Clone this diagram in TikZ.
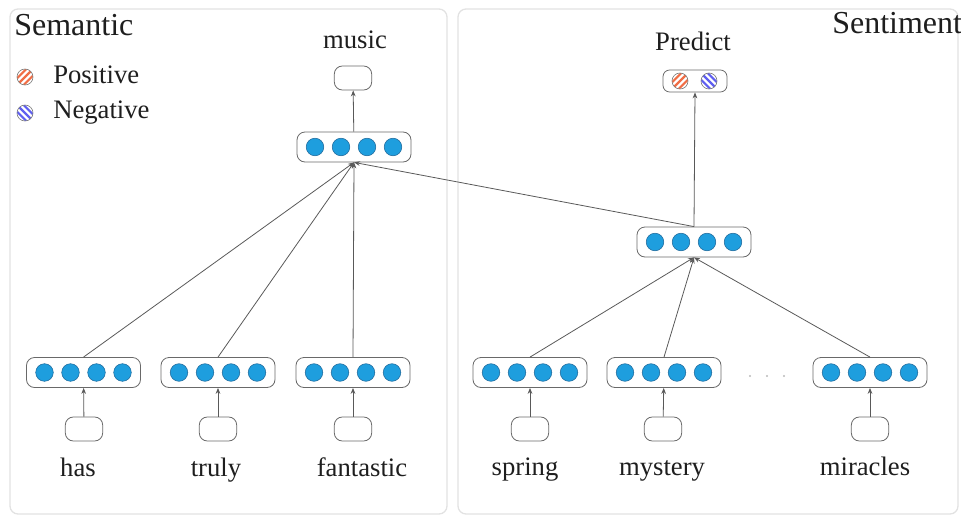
\documentclass[tikz,border=0pt]{standalone}
\usepackage{fontspec}
\setmainfont{Liberation Serif}
\usetikzlibrary{arrows.meta}

\definecolor{unitblue}{RGB}{30,158,222}
\definecolor{unitedge}{RGB}{30,105,155}
\definecolor{boxedge}{RGB}{105,105,105}
\definecolor{panelline}{RGB}{226,226,226}
\definecolor{posred}{RGB}{240,110,70}
\definecolor{negblue}{RGB}{95,95,240}
\definecolor{ink}{RGB}{30,30,30}

\tikzset{
  hidbox/.style={draw=boxedge, line width=0.6pt, rounded corners=6pt,
    minimum width=85.5pt, minimum height=22.5pt, inner sep=0pt,
    path picture={\foreach \k in {-1.5,-0.5,0.5,1.5}{
      \filldraw[fill=unitblue, draw=unitedge, line width=0.4pt]
        ([xshift=\k*19.5pt]path picture bounding box.center) circle (6.6pt);}}},
  wordbox/.style={draw=boxedge, line width=0.6pt, rounded corners=6pt,
    minimum width=28pt, minimum height=18pt, inner sep=0pt},
  predbox/.style={draw=boxedge, line width=0.6pt, rounded corners=5pt,
    minimum width=48pt, minimum height=16.5pt, inner sep=0pt},
  wordtxt/.style={font=\fontsize{20}{24}\selectfont, text=ink, anchor=base, inner sep=0pt},
  legtxt/.style={font=\fontsize{20}{24}\selectfont, text=ink, anchor=base west, inner sep=0pt},
  paneltitle/.style={font=\fontsize{24}{28}\selectfont, text=ink, anchor=base west, inner sep=0pt},
  arr/.style={draw=boxedge!85!black, line width=0.6pt, -{Stealth[length=4.5pt,width=3.5pt]}},
  hatchpos/.style={circle, draw=gray, line width=0.5pt, minimum size=12pt, inner sep=0pt,
    path picture={\foreach \d in {-5,0,5}{
      \draw[posred, line width=1.6pt]
        ([shift={(\d pt-9pt,-9pt)}]path picture bounding box.center) --
        ([shift={(\d pt+9pt,9pt)}]path picture bounding box.center);}}},
  hatchneg/.style={circle, draw=gray, line width=0.5pt, minimum size=12pt, inner sep=0pt,
    path picture={\foreach \d in {-5,0,5}{
      \draw[negblue, line width=1.6pt]
        ([shift={(\d pt-9pt,9pt)}]path picture bounding box.center) --
        ([shift={(\d pt+9pt,-9pt)}]path picture bounding box.center);}}},
}

\begin{document}
\begin{tikzpicture}[x=0.75pt, y=-0.75pt]
\useasboundingbox (0,0) rectangle (961,518);

% two panels
\draw[panelline, line width=1pt, rounded corners=6pt] (10,9) rectangle (447,514);
\draw[panelline, line width=1pt, rounded corners=6pt] (458,9) rectangle (958,514);

% panel titles and legend
\node[paneltitle] (tsem) at (14,35) {Semantic};
\node[paneltitle] (tsen) at (832,33) {Sentiment};
\node[hatchpos] (lpos) at (25,77) {};
\node[hatchneg] (lneg) at (25,113) {};
\node[legtxt] (tpos) at (53,83) {Positive};
\node[legtxt] (tneg) at (53,118) {Negative};

% semantic tree
\node[hidbox] (top) at (354,147) {};
\node[wordbox] (musicbox) at (353,78) {};
\node[wordtxt] (tmusic) at (355,48) {music};

\node[hidbox] (h1) at (83.5,372.5) {};
\node[hidbox] (h2) at (218,372.5) {};
\node[hidbox] (h3) at (353,372.5) {};
\node[wordbox] (w1) at (84,429) {};
\node[wordbox] (w2) at (218,429) {};
\node[wordbox] (w3) at (353,429) {};
\node[wordtxt] (t1) at (78,476) {has};
\node[wordtxt] (t2) at (216,476) {truly};
\node[wordtxt] (t3) at (362,476) {fantastic};

% sentiment tree
\node[hidbox] (mid) at (694,242) {};
\node[predbox] (pred) at (695,81) {};
\node[hatchpos] (ppos) at (680,81) {};
\node[hatchneg] (pneg) at (709,81) {};
\node[wordtxt] (tpred) at (693,50) {Predict};

\node[hidbox] (h4) at (530,372.5) {};
\node[hidbox] (h5) at (664,372.5) {};
\node[hidbox] (h6) at (870,372.5) {};
\node[wordbox] (w4) at (530,429) {};
\node[wordbox] (w5) at (663,429) {};
\node[wordbox] (w6) at (870,429) {};
\node[wordtxt] (t4) at (525,475) {spring};
\node[wordtxt] (t5) at (662,475) {mystery};
\node[wordtxt] (t6) at (865,475) {miracles};

% ellipsis between the sentiment units
\foreach \x in {750,767,784} \fill[gray!55] (\x,376) circle (1.1);

% connectors
\foreach \i in {1,...,6} \draw[arr] (w\i) -- (h\i);
\draw[arr] (h1.north) -- (top.south);
\draw[arr] (h2.north) -- (top.south);
\draw[arr] (h3.north) -- (top.south);
\draw[arr] (mid.north) -- (top.south);
\draw[arr] (top) -- (musicbox);
\draw[arr] (h4.north) -- (mid.south);
\draw[arr] (h5.north) -- (mid.south);
\draw[arr] (h6.north) -- (mid.south);
\draw[arr] (mid.north) -- (pred.south);
\end{tikzpicture}
\end{document}
